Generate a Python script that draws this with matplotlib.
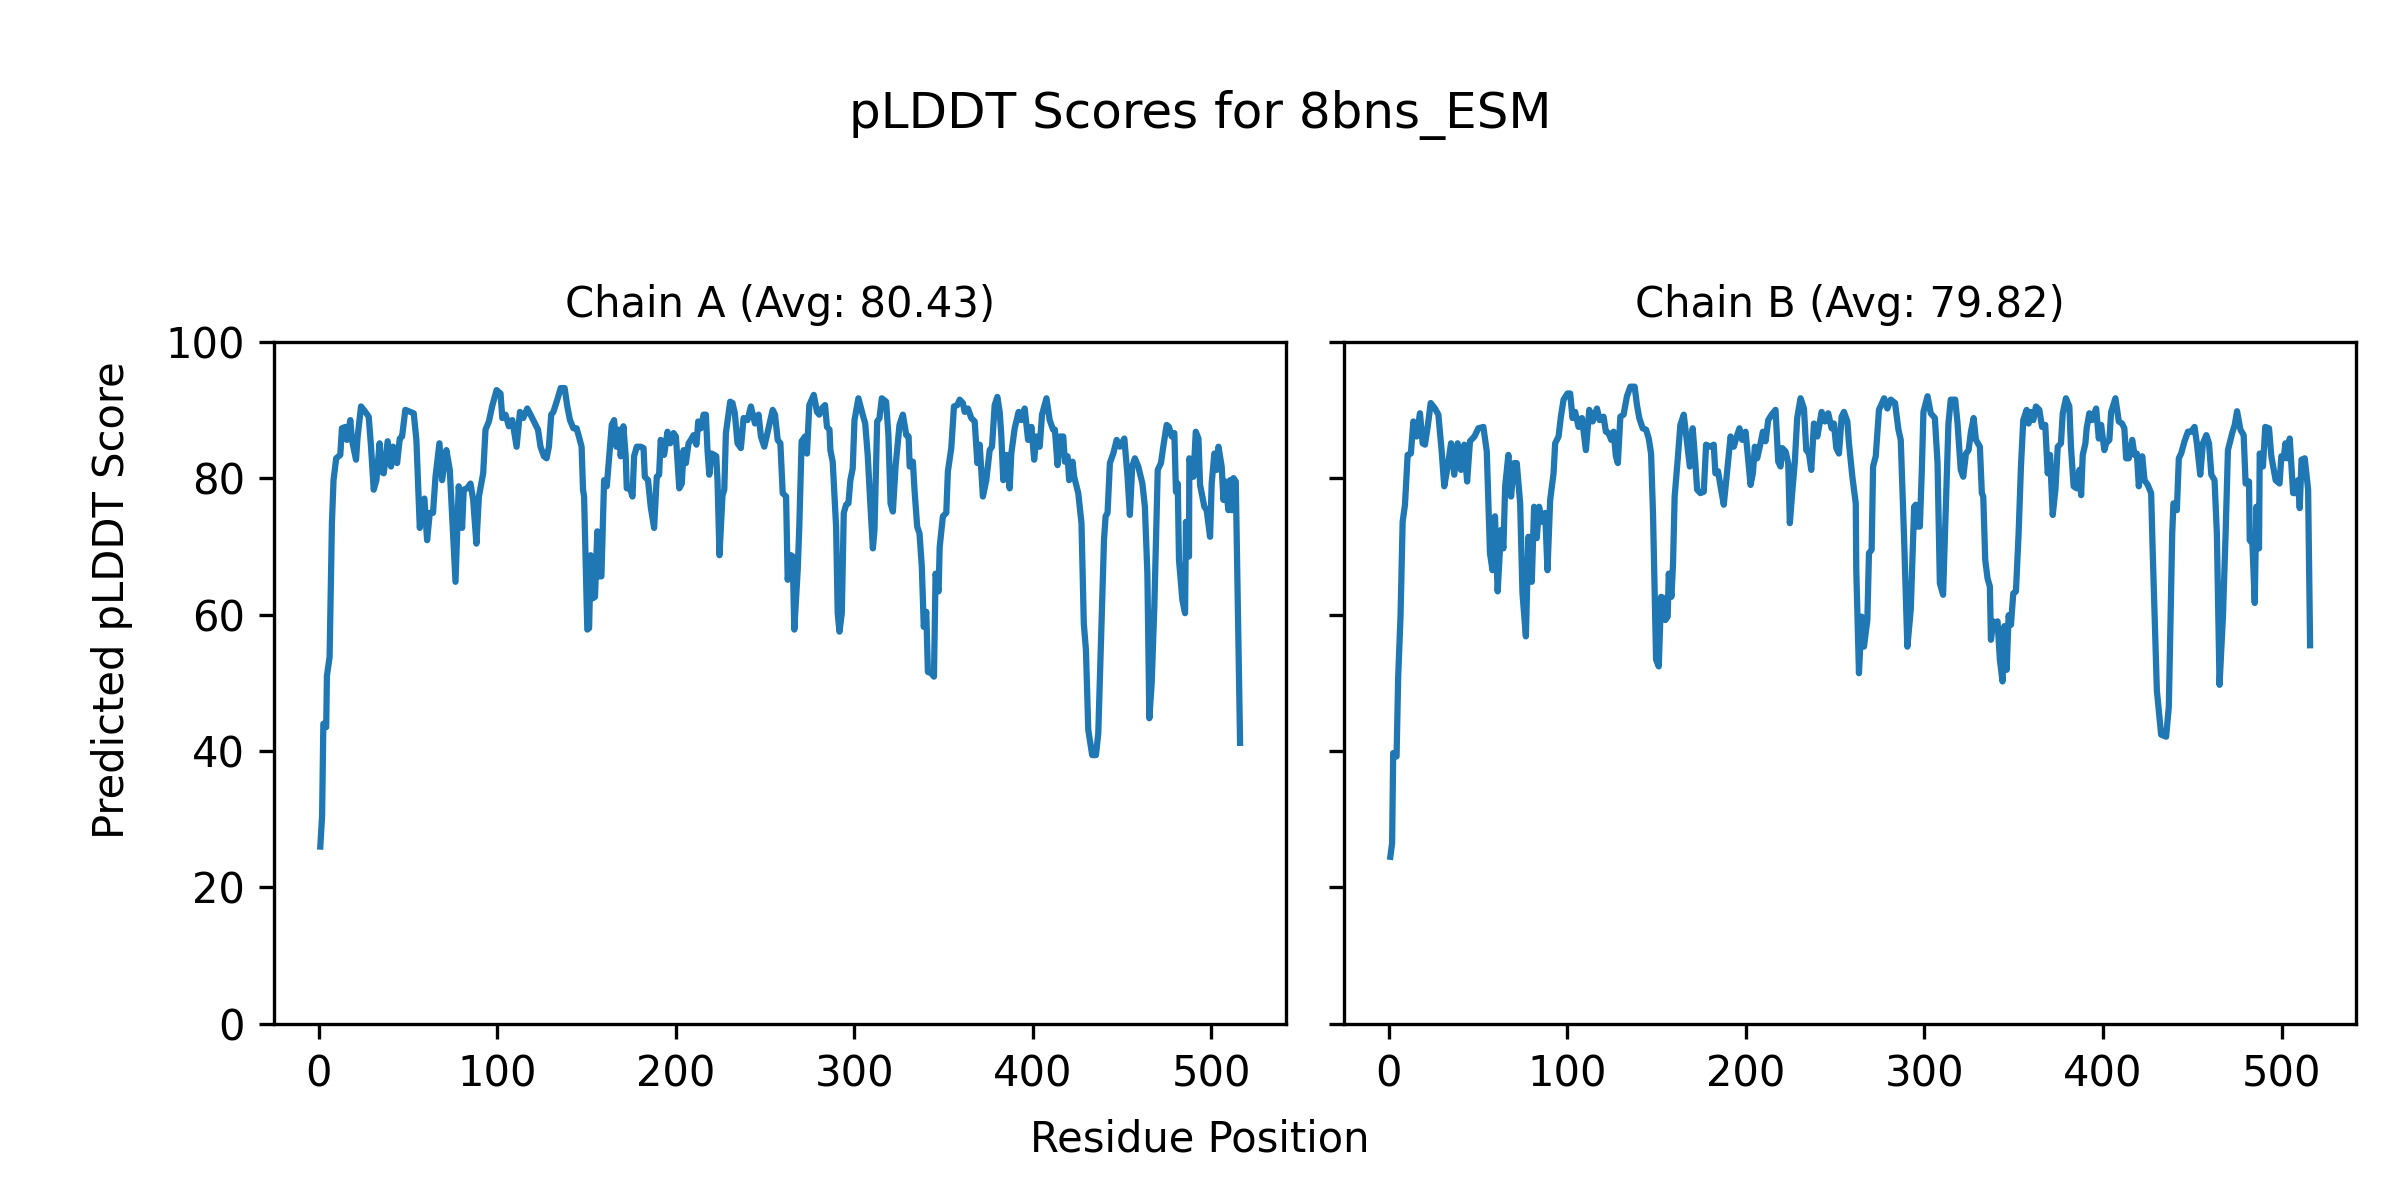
import numpy as np
import matplotlib
matplotlib.use("Agg")
import matplotlib.pyplot as plt

model_name = "8bns_ESM"
chains = ["A", "B"]
averages = [80.43, 79.82]

# residue positions / scores
res_a = [1, 2, 2.7, 4.3, 4.7, 6.2, 7.5, 8.4, 9.9, 12.2, 13.1, 15, 15.9, 17.8, 18.7, 21, 21.9, 23.8,
         26.2, 28.1, 29.4, 30.9, 32.4, 34.2, 35, 36.5, 38.7, 40.6, 41.7, 44, 45.5, 46.8, 48.6, 51.4,
         53.3, 54.8, 56.7, 59.3, 60.8, 62.3, 64.1, 65.5, 67.7, 69.2, 71.6, 73.5, 76.7, 78.5, 80.4,
         81.3, 83.2, 85.1, 86.6, 88.4, 89.8, 92.2, 93.5, 95.4, 97.2, 99.7, 101.9, 102.9, 104.7,
         106.6, 108.5, 110.9, 112.8, 114.6, 116.9, 118.7, 120.6, 122.9, 124.3, 126.2, 127.7, 129,
         130.3, 131.5, 133.7, 135.6, 137.8, 139.3, 140.8, 142.7, 144.5, 145.8, 147.3, 148.1, 148.7,
         150.5, 151.5, 152.4, 153.7, 154.8, 156.1, 157.1, 158.4, 159.9, 161.4, 163.2, 164.2, 165.5,
         166.8, 168.3, 169.2, 170.7, 172, 172.6, 174.4, 175.8, 176.7, 178.2, 180.4, 182, 182.7,
         184.5, 186, 187.9, 189.4, 190.7, 191.6, 193.5, 195.4, 196.9, 198.8, 200.1, 202, 203.4,
         204.4, 205.7, 207.2, 208.5, 210, 211.6, 212.6, 214.1, 215.6, 216.9, 217.8, 218.8, 220.1,
         221.6, 222.7, 223.4, 224.5, 226.2, 227.2, 228.1, 230.5, 231.8, 233.1, 234.6, 236.5, 238,
         240.2, 242.1, 244.4, 246.4, 247.7, 249.6, 251.8, 254.3, 255.6, 257.1, 258.6, 259.9, 261.8,
         262.7, 264.6, 265.5, 266.4, 268.3, 269.2, 270.5, 272.4, 273.5, 274.8, 277.3, 279.1, 280.4,
         281.8, 283.6, 284.7, 286.1, 286.6, 287.9, 289.8, 290.7, 291.7, 293, 294.1, 295.4, 296.7,
         297.8, 299.1, 300.1, 302.3, 304.7, 306.1, 307.5, 309, 310.4, 311.3, 312.8, 314.1, 315.4,
         317.8, 319.1, 320.3, 321.6, 323.1, 325.3, 327.2, 329.1, 330.4, 331, 332.8, 333.7, 335.2,
         336.5, 337.8, 338.9, 340.3, 341.2, 343.1, 344.6, 345.5, 347.2, 347.8, 349.6, 351.5, 352.4,
         354.3, 355.8, 357.7, 359, 360.8, 361.8, 363.6, 365.5, 367.4, 368.9, 370.2, 372, 373.9,
         375.8, 377.1, 378.6, 380.1, 381.4, 382.3, 383.4, 385.1, 387, 387.9, 389.8, 392, 393.5,
         395.4, 397.3, 399.2, 400.7, 402, 403.8, 405.1, 407.6, 409.4, 411.3, 412.3, 413.8, 415.1,
         417, 417.9, 419.4, 420.3, 422.2, 423.1, 425.4, 427.2, 428.5, 429.7, 431, 433.2, 435.3,
         436.6, 438.4, 439.8, 440.7, 441.8, 443.1, 445, 446.9, 448.7, 451.2, 453, 454.3, 455.6,
         457.1, 459, 461.3, 462.7, 464.1, 465.2, 466.5, 468, 469.9, 471.7, 473, 474.9, 476.2,
         477.7, 479.2, 480.1, 481.1, 481.8, 483.7, 485.2, 485.7, 487.4, 487.6, 489.9, 491.2, 492.7,
         493.6, 496, 497.3, 499.2, 500.1, 501.6, 502.9, 503.9, 505.7, 506.7, 507.6, 509.5, 510.4,
         511.4, 512.3, 513.6, 516]
plddt_a = [26, 30.5, 44, 43.5, 51, 53.8, 73.4, 79.7, 82.9, 83.4, 87.3, 87.5, 85.6, 88.5, 85.6, 82.7,
           86.1, 90.5, 89.7, 89, 84.6, 78.3, 79.7, 85.1, 81, 80.7, 85.4, 81.7, 84.6, 82.2, 85.8, 86.1,
           90, 89.7, 89.5, 85.6, 72.7, 77, 70.9, 74.9, 74.9, 80.2, 85.1, 79.7, 84.1, 81.2, 64.8, 78.8,
           72.7, 78.3, 78.5, 79.2, 76.8, 70.4, 77.3, 80.7, 87.1, 88.3, 90.5, 92.9, 92.4, 88.8, 89.3,
           87.6, 88.5, 84.6, 89.7, 88.8, 90.2, 89.3, 88.3, 87.1, 84.6, 83.2, 82.9, 84.6, 89.3, 89.7,
           91.5, 93.2, 93.2, 90.5, 88.5, 87.3, 87.3, 86.1, 84.6, 78.3, 77.3, 57.8, 58, 68.7, 62.4,
           62.6, 72.2, 65.6, 65.6, 79.7, 78.8, 84.6, 87.8, 88.5, 84.6, 87.1, 83.2, 87.6, 83.2, 78.5,
           78.5, 77.3, 83.2, 84.6, 84.6, 84.4, 80.2, 79.7, 75.8, 72.7, 80.2, 80.5, 85.6, 83.4, 86.8,
           85.1, 86.6, 86.1, 78.5, 79.2, 84.1, 82.2, 85.1, 85.6, 86.3, 84.9, 88.3, 87.3, 89.3, 89.3,
           84.1, 80.5, 83.6, 83.4, 83.2, 79.7, 68.7, 77.5, 78.3, 86.6, 91.2, 91, 89.5, 85.1, 84.4,
           88.8, 88.5, 90.5, 88, 89.3, 86.1, 84.6, 87.1, 90, 89.3, 85.6, 85.1, 77.8, 77.3, 65.1, 68.7,
           68.5, 57.8, 66.5, 72.9, 85.4, 86.1, 83.6, 90.7, 92.2, 89.7, 89.3, 90.2, 90.7, 87.5, 87.1,
           84.1, 82.4, 72.9, 60.2, 57.5, 60.2, 74.9, 76.1, 76.3, 79.7, 81.4, 88.5, 91.7, 89.3, 88,
           83.4, 76.1, 69.7, 72.4, 88.3, 88.8, 91.7, 91.2, 86.3, 76.3, 75.1, 81.7, 87.8, 89.3, 86.3,
           86.1, 81.7, 82.4, 78.3, 72.9, 71.9, 67, 58.2, 60.4, 51.6, 51.4, 50.9, 66, 63.4, 69.9, 74.4,
           74.9, 81, 84.4, 90.5, 90.7, 91.5, 91, 89.7, 90.2, 88.8, 88.3, 82.2, 84.9, 77.3, 79.7, 84.1,
           84.6, 90.7, 91.9, 89.7, 86.3, 79.7, 83.4, 78.5, 83.6, 87.3, 89.7, 88.5, 90.2, 85.6, 87.5,
           82.7, 86.1, 84.6, 89.3, 91.7, 88.5, 87.1, 87.1, 81.9, 86.1, 86.1, 82.4, 83.2, 79.7, 82.4,
           80.2, 77.8, 73.4, 58.7, 54.8, 43.1, 39.4, 39.4, 42.6, 58.7, 70.9, 74.4, 74.9, 82.2, 83.6,
           85.6, 84.6, 85.8, 80.2, 74.6, 81.7, 82.9, 81.7, 79.2, 75.8, 66, 44.8, 49.9, 61.2, 81.2,
           82.2, 84.6, 87.8, 87.5, 86.1, 86.6, 78, 79.2, 68, 62.1, 60.2, 73.6, 68.5, 82.9, 80.2, 86.8,
           85.8, 79, 75.8, 75.3, 71.4, 79.2, 83.6, 81.2, 84.6, 81.7, 76.8, 79.5, 75.3, 79.7, 75.3,
           80, 79.5, 41.2]

res_b = [1, 2, 2.6, 4.5, 5.4, 6.7, 7.9, 9.2, 10.7, 12.5, 13.9, 15.7, 17.6, 19.1, 20.4, 21.9, 23.6,
         26, 27.9, 29.7, 31.2, 33.1, 35, 36.8, 38.7, 40.6, 42.4, 44, 45.6, 48.1, 50.3, 53.1, 55,
         56.8, 58.2, 59.6, 61.1, 63, 64.3, 65.3, 67.1, 68.6, 70.3, 71.8, 73.7, 75, 76.9, 78.3, 80.2,
         81.5, 83, 84.3, 85.8, 87.7, 89, 90.5, 92.4, 93.3, 95.2, 96.5, 98, 100.2, 101.7, 103, 104.5,
         106.4, 108.3, 110.5, 112.4, 114.3, 116.7, 118.2, 120.4, 121.7, 123.2, 124.7, 126, 127.3,
         128.4, 129.8, 131.6, 133.5, 135.4, 137.8, 139.1, 140.4, 142.3, 144.2, 145.7, 147, 148.1,
         149.8, 151.3, 152.6, 154.1, 155, 156.3, 156.9, 158.4, 159.3, 160.2, 161.9, 163.4, 165.3,
         167.2, 168.7, 170.3, 171.8, 172.8, 174.6, 176.5, 177.8, 180.2, 182.1, 183, 184.5, 185.9,
         187.7, 189.6, 191.5, 193.3, 194.6, 196.5, 198, 199.9, 201.4, 202.7, 204, 205.1, 206.4,
         208.3, 209.6, 211.1, 212.6, 214.5, 216.7, 218.2, 219.5, 220.4, 222.3, 223.8, 224.7, 226,
         227.5, 228.8, 230.7, 232.6, 233.9, 235.4, 236.7, 238.2, 240.1, 242.5, 244.4, 246.2, 248.1,
         249.4, 250.7, 252.2, 253.7, 255, 256.9, 257.8, 259.7, 261.6, 261.9, 263.4, 264.9, 266.2,
         268.1, 269, 270.5, 271.3, 272.8, 274.6, 277.5, 279.3, 281.2, 283.6, 285.5, 286.8, 288.7,
         290.5, 292.4, 294.3, 295.2, 296.1, 297.5, 298.6, 299.5, 301.8, 303.6, 305.9, 307.4, 308.7,
         310.5, 312.4, 313.5, 314.8, 317.3, 318.6, 320.4, 321.8, 323.3, 324.8, 326.1, 327.6, 328.9,
         331.1, 332.2, 333, 334.1, 335.4, 336.7, 337.3, 338.6, 339.7, 341, 342.3, 343.8, 344.8,
         346.1, 347.2, 348.5, 349.8, 351.3, 352.8, 354.1, 355.4, 357.3, 358.4, 359.7, 361, 362.5,
         364.4, 365.9, 367.7, 369.1, 370.4, 371.9, 373.4, 374.7, 376.5, 377.5, 379.3, 381.2, 382.1,
         383.6, 385.3, 386.8, 387.8, 388.7, 390.2, 390.9, 392.4, 393.9, 396.2, 397.7, 399, 400.8,
         401.8, 403.6, 404.6, 407, 408.9, 410.7, 412, 413, 414.5, 416.4, 417.7, 419, 420.1, 422,
         423.3, 425.1, 427, 427.9, 430.2, 432.6, 435.4, 436.9, 438.8, 439.5, 441.4, 442.5, 443.8,
         445.7, 447.6, 449.4, 451.3, 452.6, 454.5, 456, 457.9, 459.4, 460.7, 462.5, 463.8, 465.3,
         467.2, 468.7, 470, 472.4, 473.8, 475.1, 477, 478.8, 479.9, 481.8, 482.2, 483.7, 485, 485.9,
         487.4, 487.8, 489.6, 490.9, 493, 494.3, 496.7, 498.9, 499.9, 501.2, 502.2, 503.1, 504.6,
         506.5, 508, 509.3, 510.2, 511.2, 513, 514.9, 516]
plddt_b = [24.5, 26.5, 39.7, 39.2, 50.9, 59.7, 73.6, 76.1, 83.4, 83.6, 88.3, 86.1, 89.5, 85.1, 84.9,
           87.5, 91, 90.2, 89.3, 84.1, 78.8, 81.7, 85.1, 80.5, 85.1, 81.2, 84.9, 79.5, 85.4, 86.1,
           87.3, 87.5, 83.9, 69, 66.5, 74.4, 63.4, 72.4, 69.7, 78.8, 83.4, 77.3, 82.2, 82.2, 76.3,
           63.1, 56.8, 71.4, 64.8, 75.8, 71.2, 75.8, 73.6, 74.9, 66.5, 76.8, 80.7, 85.1, 86.1, 89,
           91.5, 92.4, 92.4, 88.8, 89.7, 87.5, 88.8, 84.1, 90, 88.3, 90.2, 88.5, 89, 86.8, 86.6, 85.6,
           86.8, 83.2, 82.2, 89, 89.3, 92, 93.4, 93.4, 90.7, 88.8, 87.3, 87.1, 85.8, 83.6, 74.6, 53.4,
           52.4, 62.6, 62.4, 59.2, 59.7, 66, 62.6, 67.5, 77.3, 82.7, 87.8, 89.3, 85.1, 81.7, 87.3,
           82.2, 78.3, 77.8, 78, 84.9, 84.6, 84.9, 80.7, 81, 78.8, 76.1, 81, 86.1, 84.6, 85.8, 87.3,
           85.6, 86.8, 82.7, 79, 80.7, 84.6, 82.9, 85.1, 86.8, 85.4, 88.5, 89.3, 90, 82.4, 81.7, 84.4,
           83.9, 82.2, 73.4, 77.8, 82.4, 88.8, 91.7, 90.2, 84.1, 83.6, 81.2, 88, 86.1, 89.7, 88.3,
           89.5, 87.3, 88, 84.4, 83.6, 89, 89.7, 88.3, 85.1, 80.2, 76.3, 66.5, 51.4, 59.7, 55.3, 59.2,
           69, 69.5, 81.7, 83.2, 90, 91.7, 90.2, 91.5, 91, 87.1, 85.6, 70.9, 55.3, 60.7, 75.8, 76.1,
           72.9, 72.9, 81.2, 89.7, 92, 89.5, 88.8, 82.2, 64.6, 62.9, 79, 88, 91.5, 91.5, 88, 81.2,
           80.2, 83.6, 84.1, 86.8, 88.8, 85.6, 84.6, 77.8, 77.3, 68, 65.3, 64.1, 56.3, 59, 58.7, 59,
           53.4, 50.2, 58.3, 51.9, 59.9, 58.5, 63.1, 63.4, 71.9, 81.7, 88.5, 90, 88, 89.7, 88.5, 90.5,
           90, 87.5, 87.8, 80.7, 83.4, 74.6, 78.3, 84.6, 85.1, 89.5, 91.7, 90.5, 84.6, 78.8, 78.5,
           81.2, 77.5, 83.4, 85.1, 87.3, 89.5, 88.5, 90.2, 85.8, 87.8, 84.1, 85.1, 85.6, 89.7, 91.7,
           88.3, 88, 87.3, 82.9, 82.9, 85.6, 83.4, 83.6, 78.8, 83.2, 79.7, 79, 77.8, 69, 48.9, 42.4,
           42.1, 46.5, 71.9, 76.3, 75.3, 82.9, 83.6, 85.4, 86.8, 86.8, 87.5, 85.1, 80.5, 85.1, 86.3,
           85.1, 80.5, 79.7, 71.9, 49.7, 59.7, 71.9, 84.1, 86.6, 87.8, 89.8, 87.1, 86.3, 79.2, 79.5,
           70.9, 70.4, 61.7, 75.8, 69.7, 83.6, 81.7, 87.5, 87.3, 83.2, 79.7, 79.2, 83.2, 82.9, 85.1,
           82.9, 85.8, 77.8, 77.8, 79.7, 75.6, 82.7, 82.9, 78.3, 55.5]

residues = [res_a, res_b]
scores = [plddt_a, plddt_b]

fig, axes = plt.subplots(1, 2, figsize=(8, 4), dpi=300, sharey=True)
fig.subplots_adjust(left=0.1143, right=0.9817, bottom=0.1467, top=0.7153, wspace=0.0576)

for ax, chain, avg, x, y in zip(axes, chains, averages, residues, scores):
    ax.plot(x, y)
    ax.set_title(f"Chain {chain} (Avg: {avg:.2f})", fontsize=10)
    ax.set_ylim(0, 100)
    ax.set_xticks(np.arange(0, 501, 100))

fig.suptitle(f"pLDDT Scores for {model_name}", y=0.925)
fig.text(0.5, 0.04, "Residue Position", ha="center")
fig.text(0.0467, 0.5, "Predicted pLDDT Score", ha="center", va="center", rotation="vertical")

fig.savefig("out.png", dpi=300)
